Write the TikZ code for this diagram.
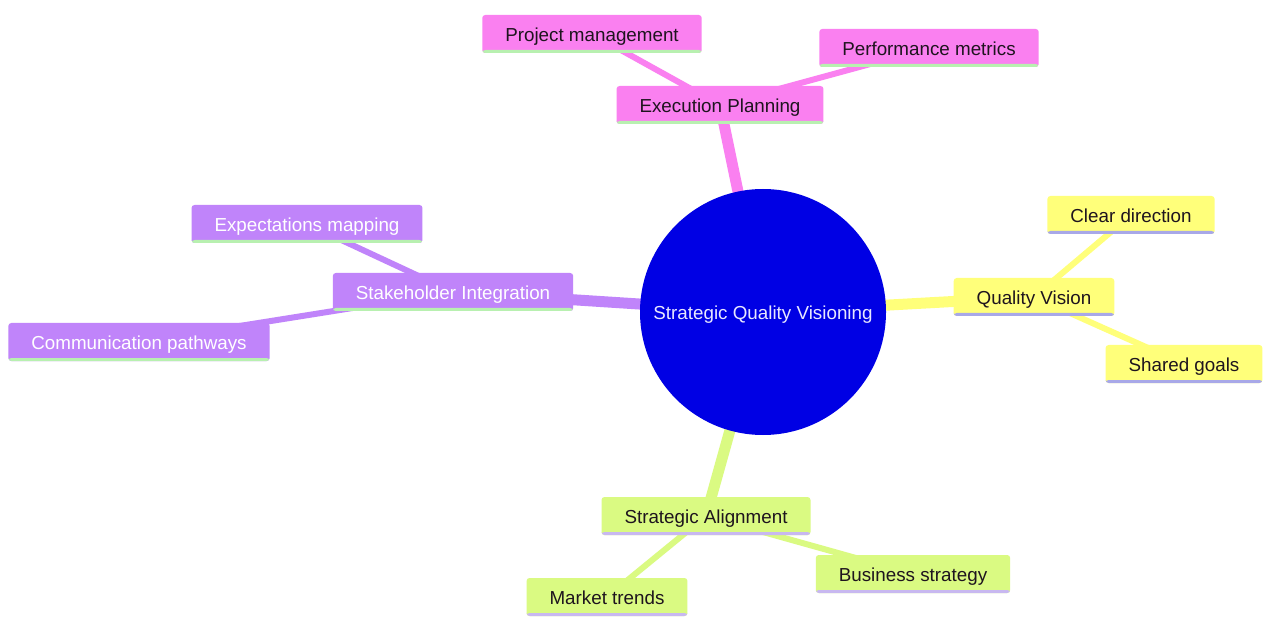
\documentclass[tikz,border=0pt]{standalone}
\usepackage{fontspec}
\setmainfont{Liberation Sans}
\usetikzlibrary{backgrounds}
\definecolor{pinkc}{RGB}{250,128,240}
\definecolor{purpc}{RGB}{192,132,250}
\definecolor{yelc}{RGB}{255,255,122}
\definecolor{grnc}{RGB}{218,250,130}
\definecolor{bluec}{RGB}{0,0,228}
\definecolor{ulgreen}{RGB}{184,240,176}
\definecolor{ulblue}{RGB}{168,168,232}
\definecolor{ullav}{RGB}{200,184,240}
\definecolor{txtdark}{RGB}{30,20,30}
\begin{document}
\begin{tikzpicture}[x=1pt,y=-1pt,
  box/.style={rectangle, rounded corners=3pt, minimum height=38pt, inner xsep=23pt, inner ysep=0pt,
    font=\fontsize{18.8}{22}\selectfont, text height=14.5pt, text depth=0pt, text=txtdark},
  ul/.style={path picture={\fill[#1] ([yshift=3pt]path picture bounding box.south west) rectangle (path picture bounding box.south east);}},
  pinkbox/.style={box, fill=pinkc, ul=ulgreen},
  purpbox/.style={box, fill=purpc, ul=ulgreen, text=white},
  yelbox/.style={box, fill=yelc, ul=ulblue},
  grnbox/.style={box, fill=grnc, ul=ullav},
  mainedge/.style={line width=11pt},
  subedge/.style={line width=6pt}]
\useasboundingbox (0,0) rectangle (1263,617);
\node[circle, fill=bluec, minimum size=246pt, inner sep=0pt, text={rgb,255:red,232;green,232;blue,255},
  font=\fontsize{18.8}{22}\selectfont, text height=14.5pt, text depth=0pt] (c) at (763,312) {Strategic Quality Visioning};
\node[pinkbox] (ep) at (720,105) {Execution Planning};
\node[pinkbox] (pm) at (592,34) {Project management};
\node[pinkbox] (pf) at (929,48) {Performance metrics};
\node[purpbox] (si) at (453,292) {Stakeholder Integration};
\node[purpbox] (em) at (307,224) {Expectations mapping};
\node[purpbox] (cp) at (139,342) {Communication pathways};
\node[yelbox] (qv) at (1034,297) {Quality Vision};
\node[yelbox] (cd) at (1131,215) {Clear direction};
\node[yelbox] (sg) at (1184,364) {Shared goals};
\node[grnbox] (sa) at (706,516) {Strategic Alignment};
\node[grnbox] (bs) at (913,574) {Business strategy};
\node[grnbox] (mt) at (607,597) {Market trends};
\begin{pgfonlayer}{background}
\fill[white] (0,0) rectangle (1263,617);
\draw[mainedge, pinkc] (c.center) -- (ep.center);
\draw[subedge, pinkc] (ep.center) -- (pm.center);
\draw[subedge, pinkc] (ep.center) -- (pf.center);
\draw[mainedge, purpc] (c.center) -- (si.center);
\draw[subedge, purpc] (si.center) -- (em.center);
\draw[subedge, purpc] (si.center) -- (cp.center);
\draw[mainedge, yelc] (c.center) -- (qv.center);
\draw[subedge, yelc] (qv.center) -- (cd.center);
\draw[subedge, yelc] (qv.center) -- (sg.center);
\draw[mainedge, grnc] (c.center) -- (sa.center);
\draw[subedge, grnc] (sa.center) -- (bs.center);
\draw[subedge, grnc] (sa.center) -- (mt.center);
\end{pgfonlayer}
\end{tikzpicture}
\end{document}
